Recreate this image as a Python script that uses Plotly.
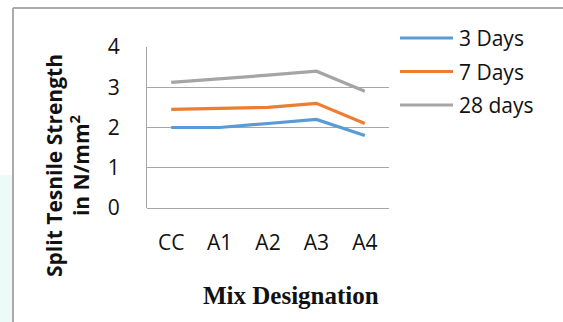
import plotly.graph_objects as go

# Split tensile strength by mix and curing age
mixes = ["CC", "A1", "A2", "A3", "A4"]
days_3 = [2.0, 2.0, 2.1, 2.2, 1.8]
days_7 = [2.45, 2.47, 2.5, 2.6, 2.1]
days_28 = [3.12, 3.2, 3.3, 3.4, 2.9]
series_names = ["3 Days", "7 Days", "28 days"]
y_ticks = [0, 1, 2, 3, 4]

colors = ["#5B9BD5", "#ED7D31", "#A5A5A5"]
W, H = 563, 322
L, R, T, B = 147, 389, 47, 208  # plot area in pixels


def px(x):
    return (x - L) / (R - L)


def py(y):
    return (B - y) / (B - T)


fig = go.Figure()
for name, vals, col in zip(series_names, [days_3, days_7, days_28], colors):
    fig.add_trace(go.Scatter(x=mixes, y=vals, mode="lines", name=name,
                             line=dict(color=col, width=3.2), showlegend=False))

shapes = []
annotations = []

# outer frame (left and top edges)
shapes.append(dict(type="line", xref="paper", yref="paper",
                   x0=px(13), x1=px(13), y0=py(H), y1=py(8),
                   line=dict(color="#ABABAB", width=2)))
shapes.append(dict(type="line", xref="paper", yref="paper",
                   x0=px(13), x1=px(W), y0=py(8), y1=py(8),
                   line=dict(color="#ABABAB", width=2)))
# faint tint along the left edge
shapes.append(dict(type="rect", xref="paper", yref="paper",
                   x0=px(0), x1=px(12), y0=py(H), y1=py(175),
                   line=dict(width=0), fillcolor="rgba(200,240,235,0.35)",
                   layer="below"))

# legend drawn as line samples with labels
for i, (name, col) in enumerate(zip(series_names, colors)):
    yy = 38 + i * 33.5
    shapes.append(dict(type="line", xref="paper", yref="paper",
                       x0=px(400), x1=px(453), y0=py(yy), y1=py(yy),
                       line=dict(color=col, width=3.2)))
    annotations.append(dict(text=name, xref="paper", yref="paper",
                            x=px(457), y=py(yy), xanchor="left", yanchor="middle",
                            showarrow=False,
                            font=dict(family="Open Sans", size=21, color="#111")))

# axis titles
annotations.append(dict(text="<b>Split Tesnile Strength</b><br><b>in N/mm<sup>2</sup></b>",
                        xref="paper", yref="paper", x=px(67), y=py(166),
                        xanchor="center", yanchor="middle", textangle=-90,
                        showarrow=False, align="center",
                        font=dict(family="Open Sans", size=21, color="#111")))
annotations.append(dict(text="<b>Mix Designation</b>", xref="paper", yref="paper",
                        x=px(291), y=py(295), xanchor="center", yanchor="middle",
                        showarrow=False,
                        font=dict(family="Liberation Serif", size=25, color="#111")))

fig.update_layout(
    width=W, height=H,
    margin=dict(l=L, r=W - R, t=T, b=H - B, pad=0),
    paper_bgcolor="white", plot_bgcolor="white",
    shapes=shapes, annotations=annotations,
    xaxis=dict(type="category", range=[-0.5, len(mixes) - 0.5],
               showgrid=False, zeroline=False, showline=False,
               ticks="", ticklabelstandoff=20,
               tickfont=dict(family="Open Sans", size=21, color="#111")),
    yaxis=dict(range=[0, 4], tickvals=y_ticks, showgrid=True, gridcolor="#A6A6A6",
               gridwidth=1, zeroline=True, zerolinecolor="#A6A6A6", zerolinewidth=1,
               showline=True, linecolor="#A6A6A6", linewidth=1,
               ticks="", ticklabelstandoff=22,
               tickfont=dict(family="Open Sans", size=21, color="#111")),
)

fig.write_html("out.html")
